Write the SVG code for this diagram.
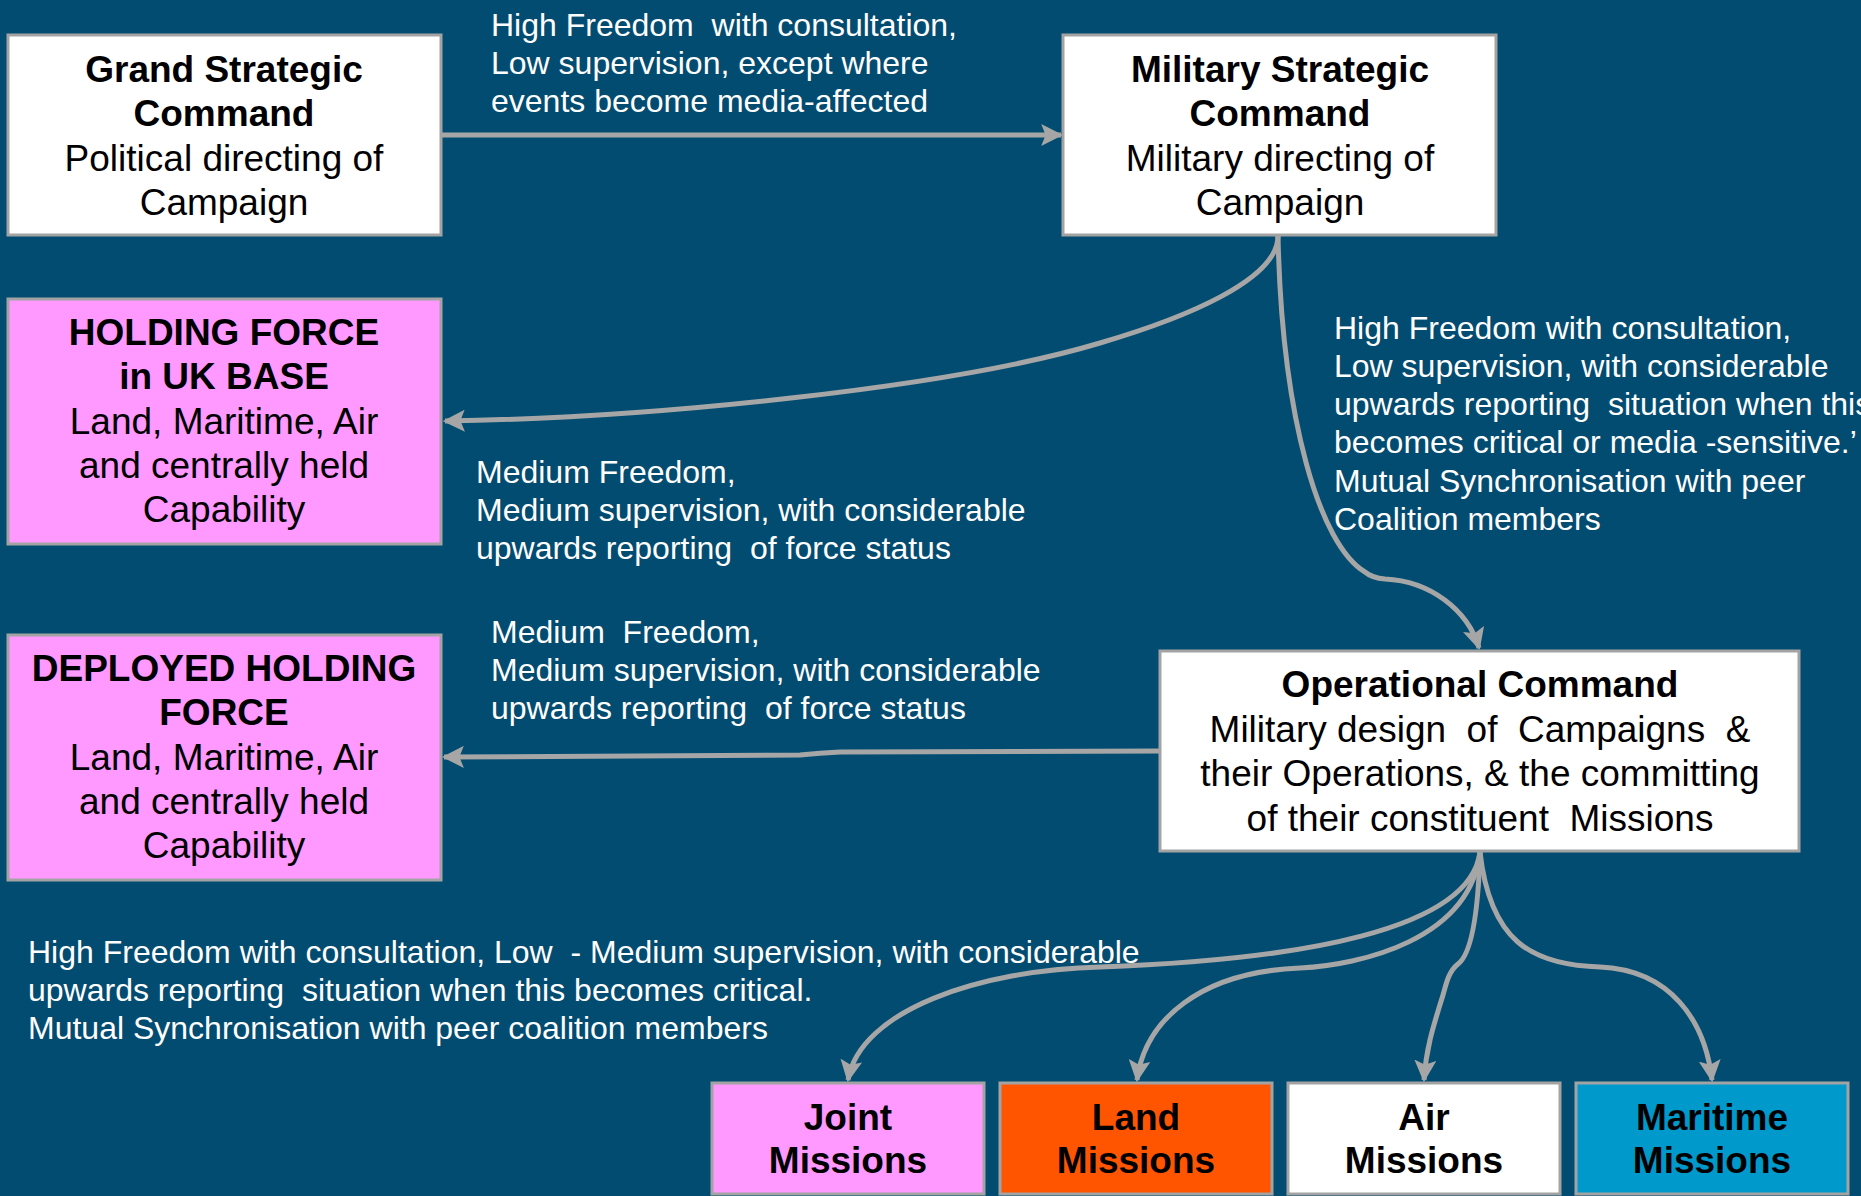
<svg xmlns="http://www.w3.org/2000/svg" width="1861" height="1196" viewBox="0 0 1861 1196" xml:space="preserve">
  <style>
    text { white-space: pre; }
    .box { stroke: #a3a3a3; stroke-width: 3; }
    .white { fill: #ffffff; }
    .pink { fill: #ff99ff; }
    .orange { fill: #ff5500; }
    .sea { fill: #0099cc; }
    .t { font-family: "Liberation Sans", Arial, sans-serif; font-size: 37px; fill: #000000; text-anchor: middle; }
    .b { font-weight: bold; }
    .lbl { font-family: "Liberation Sans", Arial, sans-serif; font-size: 32px; fill: #ffffff; }
    .link { fill: none; stroke: #a6a6a6; stroke-width: 5; marker-end: url(#arrow); }
  </style>
  <defs>
    <marker id="arrow" markerUnits="userSpaceOnUse" markerWidth="22" markerHeight="22" viewBox="0 0 20 20" refX="18" refY="10" orient="auto">
      <path d="M0,0 L20,10 L0,20 L4,10 z" fill="#a6a6a6"/>
    </marker>
  </defs>

  <rect x="0" y="0" width="1861" height="1196" fill="#034c71"/>

  <!-- connectors -->
  <g id="connectors">
    <path class="link" d="M441,135 L1061,135"/>
    <path class="link" d="M1278,236 C1278,280 1185,318 1100,343 C950,388 650,418 445,421"/>
    <path class="link" d="M1278,236 C1282,420 1320,545 1365,572 Q1372,578 1385,579 C1430,581 1468,610 1479,648"/>
    <path class="link" d="M1160,751 L840,752 Q820,753 800,755 L444,757"/>
    <path class="link" d="M1480,852 C1470,930 1300,960 1100,967 C980,970 860,1010 848,1080"/>
    <path class="link" d="M1480,852 C1470,940 1360,965 1300,968 C1200,972 1145,1020 1137,1080"/>
    <path class="link" d="M1480,852 C1478,920 1470,955 1458,964 C1448,972 1446,985 1443,995 C1432,1030 1426,1050 1424,1080"/>
    <path class="link" d="M1480,852 C1490,940 1530,965 1600,967 C1670,970 1705,1020 1712,1080"/>
  </g>

  <!-- edge labels -->
  <g id="labels">
    <text class="lbl" x="491" y="36">High Freedom  with consultation,</text>
    <text class="lbl" x="491" y="74">Low supervision, except where</text>
    <text class="lbl" x="491" y="112">events become media-affected</text>

    <text class="lbl" x="1334" y="339">High Freedom with consultation,</text>
    <text class="lbl" x="1334" y="377">Low supervision, with considerable</text>
    <text class="lbl" x="1334" y="415">upwards reporting  situation when this</text>
    <text class="lbl" x="1334" y="453">becomes critical or media -sensitive.’</text>
    <text class="lbl" x="1334" y="492">Mutual Synchronisation with peer</text>
    <text class="lbl" x="1334" y="530">Coalition members</text>

    <text class="lbl" x="476" y="483">Medium Freedom,</text>
    <text class="lbl" x="476" y="521">Medium supervision, with considerable</text>
    <text class="lbl" x="476" y="559">upwards reporting  of force status</text>

    <text class="lbl" x="491" y="643">Medium  Freedom,</text>
    <text class="lbl" x="491" y="681">Medium supervision, with considerable</text>
    <text class="lbl" x="491" y="719">upwards reporting  of force status</text>

    <text class="lbl" x="28" y="963">High Freedom with consultation, Low  - Medium supervision, with considerable</text>
    <text class="lbl" x="28" y="1001">upwards reporting  situation when this becomes critical.</text>
    <text class="lbl" x="28" y="1039">Mutual Synchronisation with peer coalition members</text>
  </g>

  <!-- command nodes -->
  <g id="grand-strategic">
    <rect class="box white" x="8" y="35" width="433" height="200"/>
    <text class="t b" x="224" y="82">Grand Strategic</text>
    <text class="t b" x="224" y="126">Command</text>
    <text class="t" x="224" y="171">Political directing of</text>
    <text class="t" x="224" y="215">Campaign</text>
  </g>

  <g id="military-strategic">
    <rect class="box white" x="1063" y="35" width="433" height="200"/>
    <text class="t b" x="1280" y="82">Military Strategic</text>
    <text class="t b" x="1280" y="126">Command</text>
    <text class="t" x="1280" y="171">Military directing of</text>
    <text class="t" x="1280" y="215">Campaign</text>
  </g>

  <g id="holding-force-uk">
    <rect class="box pink" x="8" y="299" width="433" height="245"/>
    <text class="t b" x="224" y="345">HOLDING FORCE</text>
    <text class="t b" x="224" y="389">in UK BASE</text>
    <text class="t" x="224" y="434">Land, Maritime, Air</text>
    <text class="t" x="224" y="478">and centrally held</text>
    <text class="t" x="224" y="522">Capability</text>
  </g>

  <g id="deployed-holding-force">
    <rect class="box pink" x="8" y="635" width="433" height="245"/>
    <text class="t b" x="224" y="681">DEPLOYED HOLDING</text>
    <text class="t b" x="224" y="725">FORCE</text>
    <text class="t" x="224" y="770">Land, Maritime, Air</text>
    <text class="t" x="224" y="814">and centrally held</text>
    <text class="t" x="224" y="858">Capability</text>
  </g>

  <g id="operational-command">
    <rect class="box white" x="1160" y="651" width="639" height="200"/>
    <text class="t b" x="1480" y="697">Operational Command</text>
    <text class="t" x="1480" y="742">Military design  of  Campaigns  &amp;</text>
    <text class="t" x="1480" y="786">their Operations, &amp; the committing</text>
    <text class="t" x="1480" y="831">of their constituent  Missions</text>
  </g>

  <!-- mission nodes -->
  <g id="joint-missions">
    <rect class="box pink" x="712" y="1083" width="272" height="111"/>
    <text class="t b" x="848" y="1130">Joint</text>
    <text class="t b" x="848" y="1173">Missions</text>
  </g>

  <g id="land-missions">
    <rect class="box orange" x="1000" y="1083" width="272" height="111"/>
    <text class="t b" x="1136" y="1130">Land</text>
    <text class="t b" x="1136" y="1173">Missions</text>
  </g>

  <g id="air-missions">
    <rect class="box white" x="1288" y="1083" width="272" height="111"/>
    <text class="t b" x="1424" y="1130">Air</text>
    <text class="t b" x="1424" y="1173">Missions</text>
  </g>

  <g id="maritime-missions">
    <rect class="box sea" x="1576" y="1083" width="272" height="111"/>
    <text class="t b" x="1712" y="1130">Maritime</text>
    <text class="t b" x="1712" y="1173">Missions</text>
  </g>
</svg>
